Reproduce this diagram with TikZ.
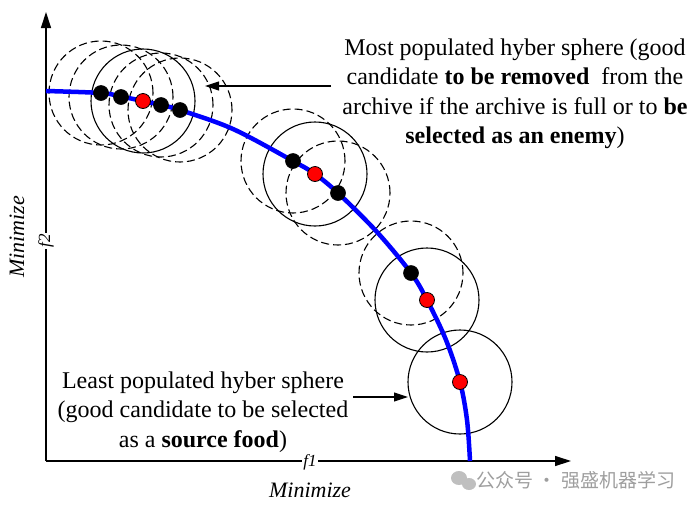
\documentclass[tikz,border=0pt]{standalone}
\usepackage{fontspec}
\setmainfont{Liberation Serif}
\newfontfamily\cjkfont{Noto Sans CJK SC}
\usetikzlibrary{arrows.meta}
\begin{document}
\begin{tikzpicture}[x=1pt,y=-1pt,
  sphere/.style={circle, draw, line width=1.1pt, minimum size=104pt, inner sep=0pt},
  dsphere/.style={sphere, dash pattern=on 8pt off 4pt},
  bdot/.style={circle, fill=black, draw=black, line width=0.6pt, minimum size=15pt, inner sep=0pt},
  rdot/.style={circle, fill=red, draw=black, line width=0.8pt, minimum size=15pt, inner sep=0pt},
  lbl/.style={font=\fontsize{24}{29.5}\selectfont, align=center, inner sep=0pt},
  axlbl/.style={font=\fontsize{22}{26}\selectfont\itshape, inner sep=1pt},
  axis/.style={line width=1.3pt, -{Triangle[length=16pt,width=10pt]}},
  note/.style={line width=1.1pt, -{Triangle[length=14pt,width=9pt]}},
  front/.style={draw=blue, line width=4.5pt}
]
\useasboundingbox (0,0) rectangle (696,507);

% axes
\coordinate (O) at (46,461);
\coordinate (ytop) at (46,12);
\coordinate (xend) at (571,461);
\draw[axis] (O) -- (ytop);
\draw[axis] (O) -- (xend);
\node[axlbl, fill=white, rotate=90, font=\fontsize{17}{20}\selectfont\itshape] (f2) at (46,241) {f2};
\node[axlbl, rotate=90] (ylab) at (17,237) {Minimize};
\node[axlbl, fill=white, font=\fontsize{17}{20}\selectfont\itshape] (f1) at (310,462) {f1};
\node[axlbl] (xlab) at (310,490) {Minimize};

% spheres
\node[dsphere] (s1a) at (101,93) {};
\node[dsphere] (s1b) at (121,97) {};
\node[dsphere] (s1d) at (161,105) {};
\node[dsphere] (s1e) at (180,110) {};
\node[sphere]  (s1c) at (143,101) {};
\node[dsphere] (s2a) at (293,161) {};
\node[dsphere] (s2c) at (338,193) {};
\node[sphere]  (s2b) at (315,174) {};
\node[dsphere] (s3a) at (411,273) {};
\node[sphere]  (s3b) at (427,300) {};
\node[sphere]  (s4)  at (460,382) {};

% Pareto front
\draw[front] plot[smooth, tension=0.55] coordinates {(46,91) (101,93) (121,96.5) (143,101) (161,105) (180,110) (233,129) (293,161) (315,174) (338,193) (377,232) (411,273) (427,300) (446,340) (460,382) (467,420) (470,461)};

% solutions
\node[bdot] (p1) at (101,93) {};
\node[bdot] (p2) at (121,97) {};
\node[rdot] (p3) at (143,101) {};
\node[bdot] (p4) at (161,105) {};
\node[bdot] (p5) at (180,110) {};
\node[bdot] (p6) at (293,161) {};
\node[rdot] (p7) at (315,174) {};
\node[bdot] (p8) at (338,193) {};
\node[bdot] (p9) at (411,273) {};
\node[rdot] (p10) at (427,300) {};
\node[rdot] (p11) at (460,382) {};

% annotations
\node[lbl] (most) at (515,94) {Most populated hyber sphere (good\\candidate \textbf{to be removed}\ \ from the\\archive if the archive is full or to \textbf{be}\\\textbf{selected as an enemy})};
\node[lbl] (least) at (203,412) {Least populated hyber sphere\\(good candidate to be selected\\as a \textbf{source food})};
\coordinate (mostTail) at (331,86);
\coordinate (mostTip) at (205,86);
\draw[note] (mostTail) -- (mostTip);
\coordinate (leastTail) at (353,397);
\coordinate (leastTip) at (408,397);
\draw[note] (leastTail) -- (leastTip);

% watermark
\fill[black!25] (459,478) ellipse (8pt and 7pt);
\fill[black!25] (469,484) ellipse (7pt and 6pt);
\node[text=black!38, font=\cjkfont\fontsize{19}{21}\selectfont, inner sep=0pt] (wm) at (576,480) {公众号 · 强盛机器学习};
\end{tikzpicture}
\end{document}
